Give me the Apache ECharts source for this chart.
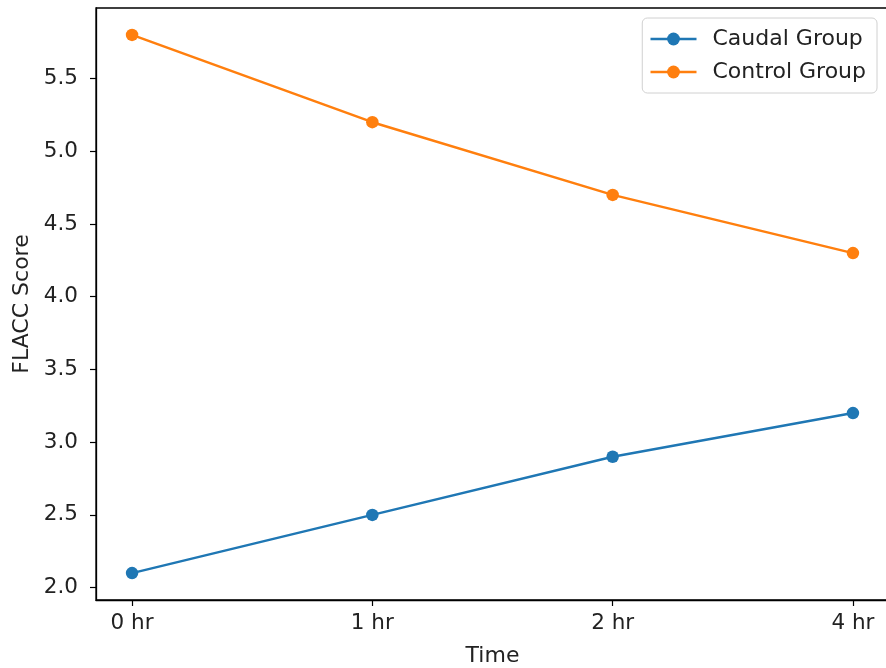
<!DOCTYPE html>
<html><head><meta charset="utf-8">
<script src="https://cdn.jsdelivr.net/npm/echarts@6/dist/echarts.min.js"></script>
<style>html,body{margin:0;padding:0;background:#fff;overflow:hidden}#c{width:889px;height:668px}</style>
</head><body><div id="c"></div>
<script>
const categories = ['0 hr', '1 hr', '2 hr', '4 hr'];
const caudal = [2.1, 2.5, 2.9, 3.2];
const control = [5.8, 5.2, 4.7, 4.3];
const yTicks = [2.0, 2.5, 3.0, 3.5, 4.0, 4.5, 5.0, 5.5];
const seriesNames = ['Caudal Group', 'Control Group'];

const font = 'DejaVu Sans';
const fs = 21.5;
const chart = echarts.init(document.getElementById('c'), null, {renderer: 'canvas'});
const toXY = arr => arr.map((v, i) => [i, v]);
const allVals = caudal.concat(control);
const lo = Math.min(...allVals), hi = Math.max(...allVals);
const pad = (hi - lo) * 0.05;
const n = categories.length;
const tickStyle = {color: '#000', width: 1.2};

chart.setOption({
  animation: false,
  grid: {left: 96, right: 0, top: 8, bottom: 68, outerBoundsMode: 'none', containLabel: false, show: true, borderColor: '#000', borderWidth: 1.3, backgroundColor: 'transparent'},
  legend: {
    data: seriesNames, orient: 'vertical', right: 12, top: 18,
    itemWidth: 46, itemHeight: 16, itemGap: 11,
    lineStyle: {width: 2.5},
    borderColor: '#d0d0d0', borderWidth: 1, borderRadius: 5, padding: [10, 11, 10, 7],
    textStyle: {fontFamily: font, fontSize: 22, color: '#222', padding: [0, 0, 0, 11]}
  },
  xAxis: {
    type: 'value', min: -(n - 1) * 0.05, max: (n - 1) * 1.05,
    name: 'Time', nameLocation: 'middle', nameGap: 45,
    nameTextStyle: {fontFamily: font, fontSize: 22, color: '#222'},
    axisLine: {show: true, onZero: false, lineStyle: {color: '#000', width: 1.3}},
    splitLine: {show: false},
    axisTick: {show: true, customValues: categories.map((c, i) => i), length: 6, lineStyle: tickStyle},
    axisLabel: {customValues: categories.map((c, i) => i), formatter: v => categories[Math.round(v)], fontFamily: font, fontSize: fs, color: '#222', margin: 12}
  },
  yAxis: {
    type: 'value', min: lo - pad, max: hi + pad,
    name: 'FLACC Score', nameLocation: 'middle', nameGap: 62, nameRotate: 90,
    nameTextStyle: {fontFamily: font, fontSize: 22, color: '#222'},
    axisLine: {show: true, onZero: false, lineStyle: {color: '#000', width: 1.3}},
    splitLine: {show: false},
    axisTick: {show: true, customValues: yTicks, length: 6, lineStyle: tickStyle},
    axisLabel: {customValues: yTicks, formatter: v => v.toFixed(1), fontFamily: font, fontSize: fs, color: '#222', margin: 18}
  },
  series: [
    {name: seriesNames[0], type: 'line', data: toXY(caudal), color: '#1f77b4', symbol: 'circle', symbolSize: 12.5, lineStyle: {width: 2.5}},
    {name: seriesNames[1], type: 'line', data: toXY(control), color: '#ff7f0e', symbol: 'circle', symbolSize: 12.5, lineStyle: {width: 2.5}}
  ]
});
</script></body></html>
